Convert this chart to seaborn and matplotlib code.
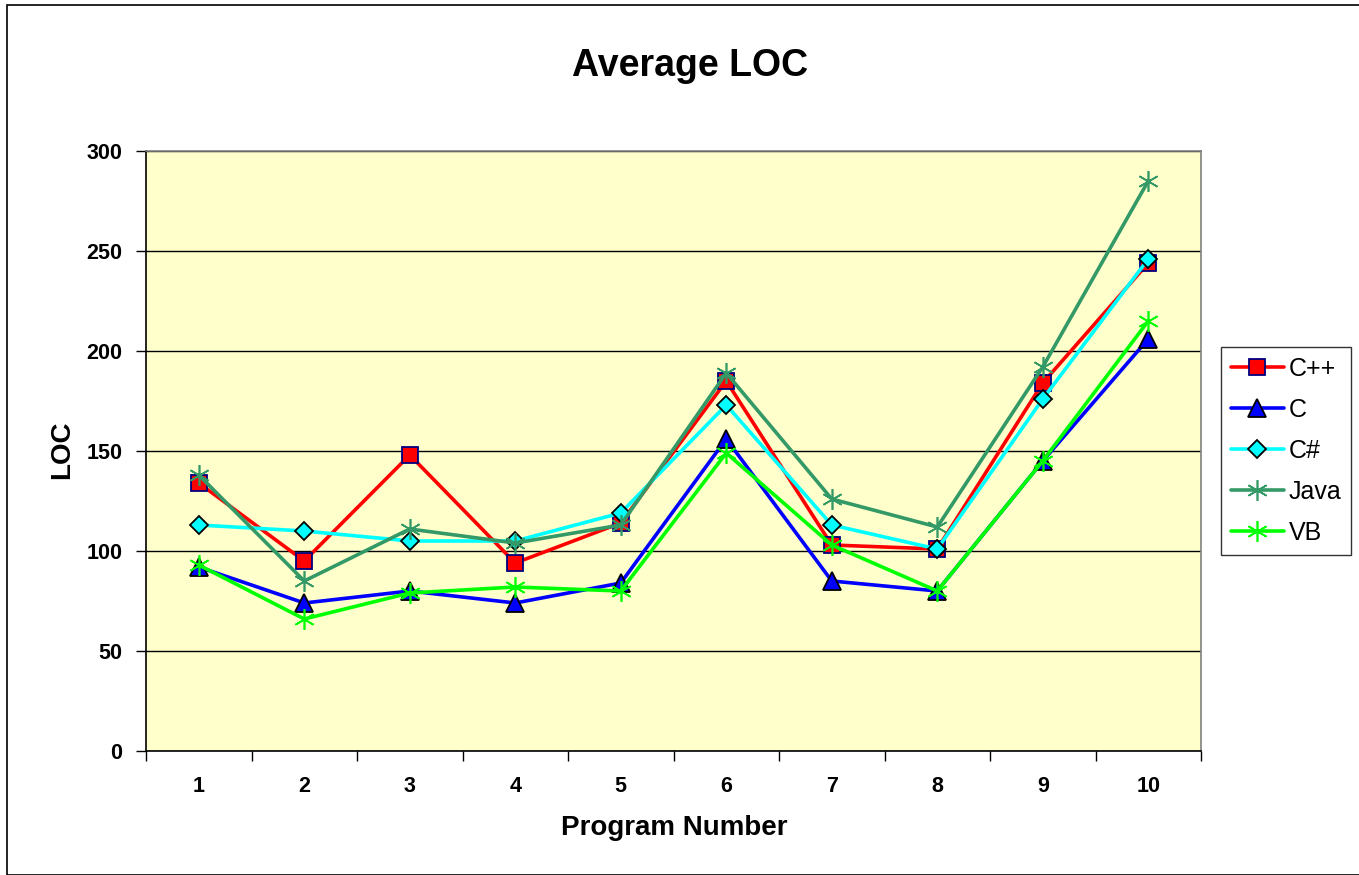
import matplotlib
matplotlib.use("Agg")
import matplotlib.pyplot as plt
from matplotlib.patches import Rectangle
from matplotlib.ticker import FixedLocator, NullFormatter
import seaborn as sns
import pandas as pd

programs = [1, 2, 3, 4, 5, 6, 7, 8, 9, 10]
cpp = [134, 95, 148, 94, 114, 185, 103, 101, 184, 244]
c_lang = [92, 74, 80, 74, 84, 156, 85, 80, 145, 206]
csharp = [113, 110, 105, 105, 119, 173, 113, 101, 176, 246]
java = [138, 85, 111, 104, 113, 189, 126, 112, 192, 285]
vb = [93, 66, 79, 82, 80, 149, 103, 80, 145, 215]

series_names = ["C++", "C", "C#", "Java", "VB"]
series_values = [cpp, c_lang, csharp, java, vb]

styles = {
    "C++": dict(color="#FF0000", marker="s", markerfacecolor="#FF0000",
                markeredgecolor="#000080", markersize=11.5, markeredgewidth=1.3),
    "C": dict(color="#0000FF", marker="^", markerfacecolor="#0000FF",
              markeredgecolor="#000000", markersize=12.5, markeredgewidth=1.3),
    "C#": dict(color="#00FFFF", marker="D", markerfacecolor="#00FFFF",
               markeredgecolor="#000000", markersize=9.5, markeredgewidth=1.3),
    "Java": dict(color="#339966", marker=(6, 2, 0), markerfacecolor="#339966",
                 markeredgecolor="#339966", markersize=15, markeredgewidth=1.2),
    "VB": dict(color="#00FF00", marker=(6, 2, 0), markerfacecolor="#00FF00",
               markeredgecolor="#00FF00", markersize=15, markeredgewidth=1.2),
}

rows = []
for name, vals in zip(series_names, series_values):
    for p, v in zip(programs, vals):
        rows.append({"Program": p, "LOC": v, "Language": name})
df = pd.DataFrame(rows)

sns.set_theme(style="white")
plt.rcParams["font.family"] = ["Liberation Sans", "DejaVu Sans"]
plt.rcParams["text.color"] = "black"
plt.rcParams["xtick.color"] = "black"
plt.rcParams["ytick.color"] = "black"

fig = plt.figure(figsize=(13.59, 8.75), dpi=100)
ax = fig.add_axes([146 / 1359, 1 - 751 / 875, (1201 - 146) / 1359, 600 / 875])
ax.set_facecolor("#FFFFCC")

for name in series_names:
    sub = df[df["Language"] == name]
    sns.lineplot(data=sub, x="Program", y="LOC", ax=ax, label=name,
                 linewidth=2.6, **styles[name])

ax.set_xlim(0.5, 10.5)
ax.set_ylim(0, 300)
ax.set_yticks([0, 50, 100, 150, 200, 250, 300])
ax.set_xticks(programs)
ax.xaxis.set_minor_locator(FixedLocator([x + 0.5 for x in range(0, 11)]))
ax.xaxis.set_minor_formatter(NullFormatter())
ax.tick_params(axis="x", which="major", length=0, pad=18, labelsize=15.5,
               labelcolor="black")
ax.tick_params(axis="x", which="minor", length=7, width=1, color="black",
               direction="out", bottom=True)
ax.tick_params(axis="y", which="major", length=7, width=1, color="black",
               direction="out", left=True, pad=10, labelsize=15.5,
               labelcolor="black")
for lab in ax.get_xticklabels() + ax.get_yticklabels():
    lab.set_fontweight("bold")

ax.grid(axis="y", color="black", linewidth=1)
ax.set_axisbelow(True)
for side in ["left", "bottom"]:
    ax.spines[side].set_color("black")
    ax.spines[side].set_linewidth(1.2)
for side in ["top", "right"]:
    ax.spines[side].set_color("#808080")
    ax.spines[side].set_linewidth(1.2)

ax.set_xlabel("")
ax.set_ylabel("")
fig.text(674 / 1359, 1 - 828 / 875, "Program Number", ha="center", va="center",
         fontsize=20, fontweight="bold", color="black")
fig.text(62 / 1359, 1 - 450 / 875, "LOC", ha="center", va="center",
         rotation=90, fontsize=20, fontweight="bold", color="black")
fig.text(690 / 1359, 1 - 66 / 875, "Average LOC", ha="center", va="center",
         fontsize=27, fontweight="bold", color="black")

ax.get_legend().remove()
handles, labels = ax.get_legend_handles_labels()
leg = fig.legend(handles, labels, loc="upper left",
                 bbox_to_anchor=(1221 / 1359, 1 - 347 / 875),
                 frameon=True, fancybox=False, fontsize=18,
                 handlelength=2.1, labelspacing=0.68, borderpad=0.4,
                 handletextpad=0.2, borderaxespad=0)
leg.get_frame().set_edgecolor("black")
leg.get_frame().set_linewidth(1)
leg.get_frame().set_facecolor("white")
for t in leg.get_texts():
    t.set_color("black")

fig.patches.append(Rectangle((7 / 1359, 0), 1.0, 1 - 5 / 875,
                             transform=fig.transFigure, fill=False,
                             edgecolor="black", linewidth=1.2))

fig.savefig("out.png", dpi=100, facecolor="white")
